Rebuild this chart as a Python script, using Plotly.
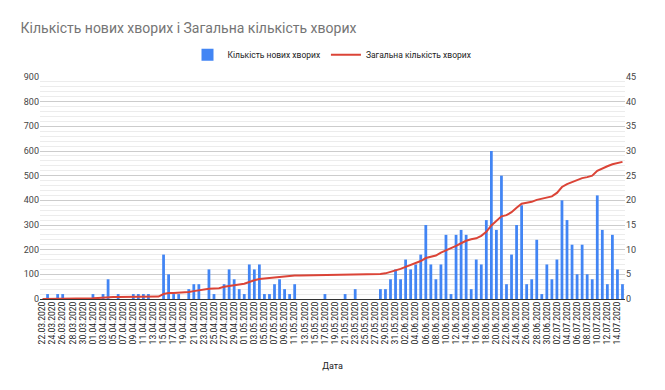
import pandas as pd
import plotly.graph_objects as go

dates = [d.strftime("%d.%m.%Y") for d in pd.date_range("2020-03-22", "2020-07-15", freq="D")]

new_cases = [
    0, 20, 0, 20, 20, 0, 0, 0, 0, 0,
    20, 0, 20, 80, 0, 20, 0, 0, 20, 20,
    20, 20, 0, 0, 180, 100, 20, 20, 0, 40,
    60, 60, 0, 120, 20, 0, 60, 120, 80, 40,
    20, 140, 120, 140, 20, 20, 60, 80, 40, 20,
    60, 0, 0, 0, 0, 0, 20, 0, 0, 0,
    20, 0, 40, 0, 0, 0, 0, 40, 40, 80,
    120, 80, 160, 120, 140, 180, 300, 140, 80, 140,
    260, 20, 260, 280, 260, 40, 160, 140, 320, 600,
    280, 500, 60, 180, 300, 380, 60, 80, 240, 20,
    140, 80, 160, 400, 320, 220, 100, 220, 100, 80,
    420, 280, 60, 260, 120, 60,
]

total_cases = [
    0, 0, 0.05, 0.05, 0.1, 0.1, 0.1, 0.1, 0.1, 0.1,
    0.15, 0.2, 0.3, 0.4, 0.4, 0.42, 0.42, 0.42, 0.44, 0.45,
    0.46, 0.47, 0.48, 0.5, 1.0, 1.2, 1.22, 1.25, 1.28, 1.4,
    1.6, 1.8, 1.96, 2.1, 2.15, 2.2, 2.5, 2.7, 2.85, 2.95,
    3.1, 3.5, 3.8, 4.05, 4.15, 4.25, 4.4, 4.55, 4.65, 4.7,
    4.75, 4.77, 4.78, 4.79, 4.8, 4.8, 4.81, 4.82, 4.84, 4.85,
    4.86, 4.88, 4.89, 4.9, 4.92, 4.93, 4.95, 5.05, 5.2, 5.45,
    5.75, 6.1, 6.5, 6.9, 7.25, 7.7, 8.3, 8.5, 8.8, 9.4,
    9.8, 10.2, 10.75, 11.3, 11.8, 12.1, 12.3, 12.8, 13.6, 14.9,
    15.8, 16.75, 17.0, 17.6, 18.5, 19.3, 19.5, 19.7, 20.1, 20.3,
    20.5, 20.8, 21.5, 22.7, 23.3, 23.7, 24.1, 24.5, 24.7, 25.0,
    26.0, 26.5, 26.9, 27.3, 27.6, 27.8,
]

bar_name = "Кількість нових хворих"
line_name = "Загальна кількість хворих"
title_text = "Кількість нових хворих і Загальна кількість хворих"
x_title = "Дата"

fig = go.Figure()
fig.add_trace(go.Bar(x=dates, y=new_cases, name=bar_name,
                     marker=dict(color="#4285F4", line=dict(width=0))))
fig.add_trace(go.Scatter(x=dates, y=total_cases, name=line_name, yaxis="y2",
                         mode="lines", line=dict(color="#DB4437", width=2)))

fig.update_layout(
    width=665, height=390,
    margin=dict(l=40, r=40, t=77, b=91, autoexpand=False),
    paper_bgcolor="white", plot_bgcolor="white",
    font=dict(family="Roboto, Arial, sans-serif", color="#222222", size=9),
    title=dict(text=title_text, x=0.031, xanchor="left", y=0.927, yanchor="middle",
               font=dict(size=14, color="#757575")),
    bargap=0.45,
    showlegend=True,
    legend=dict(orientation="h", x=0.5, xanchor="center", y=1.1, yanchor="middle",
                font=dict(size=8.5, color="#222222"), itemwidth=30,
                bgcolor="rgba(0,0,0,0)"),
    xaxis=dict(type="category", categoryorder="array", categoryarray=dates,
               tickmode="array", tickvals=dates[::2], ticktext=dates[::2],
               tickangle=-90, tickfont=dict(size=8.5, color="#222222"),
               showgrid=False, ticks="", showline=False, automargin=False,
               title=dict(text=x_title, font=dict(size=9, color="#222222"), standoff=19)),
    yaxis=dict(range=[0, 900], dtick=100, gridcolor="#cccccc", gridwidth=1,
               tickfont=dict(size=9, color="#444444"), zeroline=True,
               zerolinecolor="#333333", zerolinewidth=1, ticks="", automargin=False,
               minor=dict(dtick=20, showgrid=True, gridcolor="#ececec", gridwidth=1)),
    yaxis2=dict(range=[0, 45], dtick=5, overlaying="y", side="right",
                showgrid=False, zeroline=False, ticks="", automargin=False,
                tickfont=dict(size=9, color="#444444")),
)

fig.write_html("out.html", config={"displayModeBar": False},
               post_script="document.body.style.margin='0px';")
